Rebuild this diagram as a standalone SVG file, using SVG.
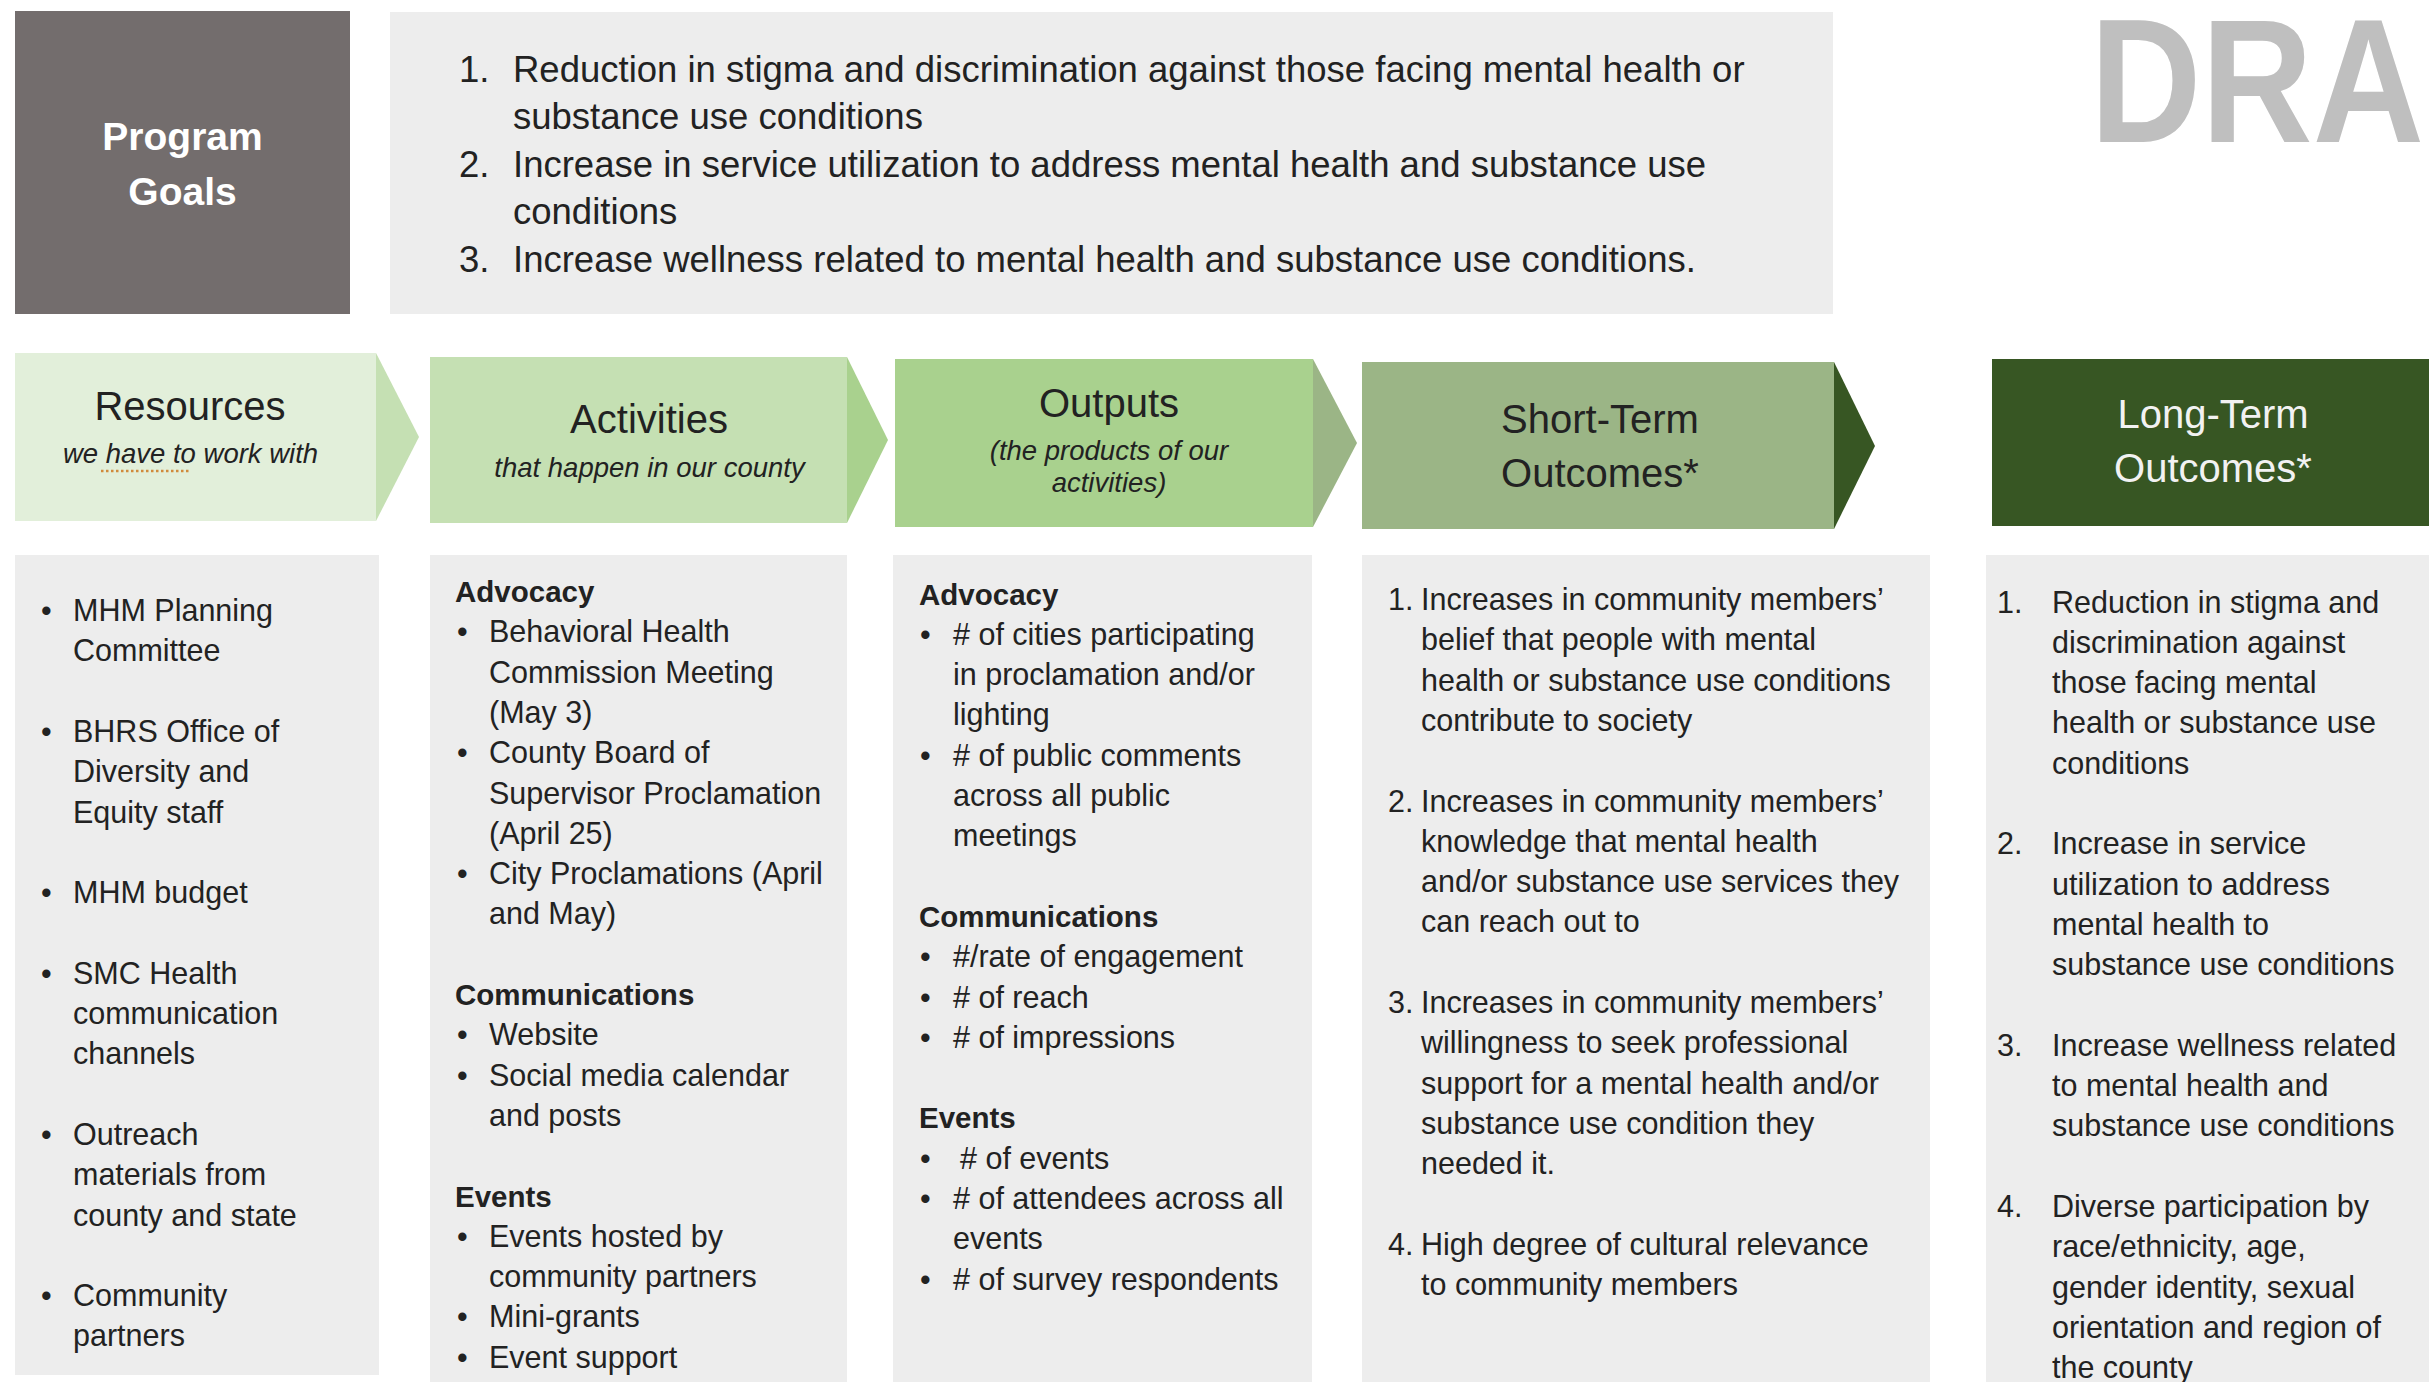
<svg xmlns="http://www.w3.org/2000/svg" width="2429" height="1382" viewBox="0 0 2429 1382">
<style>
.t{font-family:"Liberation Sans",Arial,sans-serif;fill:#222}
.body{font-size:30.5px}
.b{font-weight:bold;font-size:29.5px}
.goal{font-size:36.5px}
.hd{font-size:40px;text-anchor:middle}
.sub{font-size:27.5px;font-style:italic;text-anchor:middle}
.panel{fill:#ededed}
.w{fill:#f2f2f2}
</style>
<rect width="2429" height="1382" fill="#ffffff"/>

<g id="program-goals-label">
<rect x="15" y="11" width="335" height="303" fill="#736d6d"/>
<text class="t" x="182.5" y="150" font-size="39" font-weight="bold" text-anchor="middle" style="fill:#ffffff">Program</text>
<text class="t" x="182.5" y="205" font-size="39" font-weight="bold" text-anchor="middle" style="fill:#ffffff">Goals</text>
</g>

<g id="program-goals-list">
<rect class="panel" x="390" y="12" width="1443" height="302"/>
<text class="t goal" x="459" y="82">1.</text>
<text class="t goal" x="513" y="82">Reduction in stigma and discrimination against those facing mental health or</text>
<text class="t goal" x="513" y="129.4">substance use conditions</text>
<text class="t goal" x="459" y="176.8">2.</text>
<text class="t goal" x="513" y="176.8">Increase in service utilization to address mental health and substance use</text>
<text class="t goal" x="513" y="224.2">conditions</text>
<text class="t goal" x="459" y="271.6">3.</text>
<text class="t goal" x="513" y="271.6">Increase wellness related to mental health and substance use conditions.</text>
</g>

<text x="2090" y="142" font-family="Liberation Sans,Arial,sans-serif" font-weight="bold" font-size="177" fill="#bfbfbf" textLength="334" lengthAdjust="spacingAndGlyphs">DRA</text>

<g id="connectors">
<polygon points="376,353 419,437 376,521" fill="#c5e0b3"/>
<polygon points="847,357 888,440 847,523" fill="#a9d18e"/>
<polygon points="1313,359 1357,443 1313,527" fill="#9bb586"/>
<polygon points="1834,362 1875,446 1834,529" fill="#375623"/>
</g>

<g id="resources-header">
<rect x="15" y="353" width="361" height="168" fill="#e2efda"/>
<text class="t hd" x="190" y="420">Resources</text>
<text class="t sub" x="190.5" y="463" font-size="28">we have to work with</text>
<line x1="101" y1="471" x2="191" y2="471" stroke="#d08a3c" stroke-width="2.5" stroke-dasharray="2.5,2.5"/>
</g>

<g id="activities-header">
<rect x="430" y="357" width="417" height="166" fill="#c5e0b3"/>
<text class="t hd" x="649" y="433">Activities</text>
<text class="t sub" x="649.5" y="477">that happen in our county</text>
</g>

<g id="outputs-header">
<rect x="895" y="359" width="418" height="168" fill="#a9d18e"/>
<text class="t hd" x="1109" y="417">Outputs</text>
<text class="t sub" x="1109" y="460">(the products of our</text>
<text class="t sub" x="1109" y="492">activities)</text>
</g>

<g id="short-term-header">
<rect x="1362" y="362" width="472" height="167" fill="#9bb586"/>
<text class="t hd" x="1600" y="433">Short-Term</text>
<text class="t hd" x="1600" y="487">Outcomes*</text>
</g>

<g id="long-term-header">
<rect x="1992" y="359" width="437" height="167" fill="#375623"/>
<text class="t hd w" x="2213" y="428">Long-Term</text>
<text class="t hd w" x="2213" y="482">Outcomes*</text>
</g>

<g id="resources-list">
<rect class="panel" x="15" y="555" width="364" height="820"/>
<g class="t body">
<text x="41" y="621">•</text><text x="73" y="621">MHM Planning</text>
<text x="73" y="661.3">Committee</text>
<text x="41" y="741.9">•</text><text x="73" y="741.9">BHRS Office of</text>
<text x="73" y="782.2">Diversity and</text>
<text x="73" y="822.5">Equity staff</text>
<text x="41" y="903">•</text><text x="73" y="903">MHM budget</text>
<text x="41" y="983.7">•</text><text x="73" y="983.7">SMC Health</text>
<text x="73" y="1024">communication</text>
<text x="73" y="1064.3">channels</text>
<text x="41" y="1144.9">•</text><text x="73" y="1144.9">Outreach</text>
<text x="73" y="1185.2">materials from</text>
<text x="73" y="1225.5">county and state</text>
<text x="41" y="1306">•</text><text x="73" y="1306">Community</text>
<text x="73" y="1346.4">partners</text>
</g>
</g>

<g id="activities-list">
<rect class="panel" x="430" y="555" width="417" height="827"/>
<g class="t body">
<text class="b" x="455" y="602">Advocacy</text>
<text x="457" y="642.3">•</text><text x="489" y="642.3">Behavioral Health</text>
<text x="489" y="682.6">Commission Meeting</text>
<text x="489" y="722.9">(May 3)</text>
<text x="457" y="763.2">•</text><text x="489" y="763.2">County Board of</text>
<text x="489" y="803.5">Supervisor Proclamation</text>
<text x="489" y="843.8">(April 25)</text>
<text x="457" y="884.1">•</text><text x="489" y="884.1">City Proclamations (April</text>
<text x="489" y="924.4">and May)</text>
<text class="b" x="455" y="1005">Communications</text>
<text x="457" y="1045.3">•</text><text x="489" y="1045.3">Website</text>
<text x="457" y="1085.6">•</text><text x="489" y="1085.6">Social media calendar</text>
<text x="489" y="1125.9">and posts</text>
<text class="b" x="455" y="1206.5">Events</text>
<text x="457" y="1246.8">•</text><text x="489" y="1246.8">Events hosted by</text>
<text x="489" y="1287.1">community partners</text>
<text x="457" y="1327.4">•</text><text x="489" y="1327.4">Mini-grants</text>
<text x="457" y="1367.7">•</text><text x="489" y="1367.7">Event support</text>
</g>
</g>

<g id="outputs-list">
<rect class="panel" x="893" y="555" width="419" height="827"/>
<g class="t body">
<text class="b" x="919" y="604.5">Advocacy</text>
<text x="920" y="644.8">•</text><text x="953" y="644.8"># of cities participating</text>
<text x="953" y="685.1">in proclamation and/or</text>
<text x="953" y="725.4">lighting</text>
<text x="920" y="765.7">•</text><text x="953" y="765.7"># of public comments</text>
<text x="953" y="806">across all public</text>
<text x="953" y="846.3">meetings</text>
<text class="b" x="919" y="926.9">Communications</text>
<text x="920" y="967.2">•</text><text x="953" y="967.2">#/rate of engagement</text>
<text x="920" y="1007.5">•</text><text x="953" y="1007.5"># of reach</text>
<text x="920" y="1047.8">•</text><text x="953" y="1047.8"># of impressions</text>
<text class="b" x="919" y="1128.4">Events</text>
<text x="920" y="1168.7">•</text><text x="960" y="1168.7"># of events</text>
<text x="920" y="1209">•</text><text x="953" y="1209"># of attendees across all</text>
<text x="953" y="1249.3">events</text>
<text x="920" y="1289.6">•</text><text x="953" y="1289.6"># of survey respondents</text>
</g>
</g>

<g id="short-term-list">
<rect class="panel" x="1362" y="555" width="568" height="827"/>
<g class="t body">
<text x="1388" y="610">1.</text><text x="1421" y="610">Increases in community members’</text>
<text x="1421" y="650.3">belief that people with mental</text>
<text x="1421" y="690.6">health or substance use conditions</text>
<text x="1421" y="730.9">contribute to society</text>
<text x="1388" y="811.5">2.</text><text x="1421" y="811.5">Increases in community members’</text>
<text x="1421" y="851.8">knowledge that mental health</text>
<text x="1421" y="892.1">and/or substance use services they</text>
<text x="1421" y="932.4">can reach out to</text>
<text x="1388" y="1013">3.</text><text x="1421" y="1013">Increases in community members’</text>
<text x="1421" y="1053.3">willingness to seek professional</text>
<text x="1421" y="1093.6">support for a mental health and/or</text>
<text x="1421" y="1133.9">substance use condition they</text>
<text x="1421" y="1174.2">needed it.</text>
<text x="1388" y="1254.8">4.</text><text x="1421" y="1254.8">High degree of cultural relevance</text>
<text x="1421" y="1295.1">to community members</text>
</g>
</g>

<g id="long-term-list">
<rect class="panel" x="1986" y="555" width="443" height="827"/>
<g class="t body">
<text x="1997" y="612.5">1.</text><text x="2052" y="612.5">Reduction in stigma and</text>
<text x="2052" y="652.8">discrimination against</text>
<text x="2052" y="693.1">those facing mental</text>
<text x="2052" y="733.4">health or substance use</text>
<text x="2052" y="773.7">conditions</text>
<text x="1997" y="854.3">2.</text><text x="2052" y="854.3">Increase in service</text>
<text x="2052" y="894.6">utilization to address</text>
<text x="2052" y="934.9">mental health to</text>
<text x="2052" y="975.2">substance use conditions</text>
<text x="1997" y="1055.8">3.</text><text x="2052" y="1055.8">Increase wellness related</text>
<text x="2052" y="1096.1">to mental health and</text>
<text x="2052" y="1136.4">substance use conditions</text>
<text x="1997" y="1217">4.</text><text x="2052" y="1217">Diverse participation by</text>
<text x="2052" y="1257.3">race/ethnicity, age,</text>
<text x="2052" y="1297.6">gender identity, sexual</text>
<text x="2052" y="1337.9">orientation and region of</text>
<text x="2052" y="1378.2">the county</text>
</g>
</g>
</svg>
